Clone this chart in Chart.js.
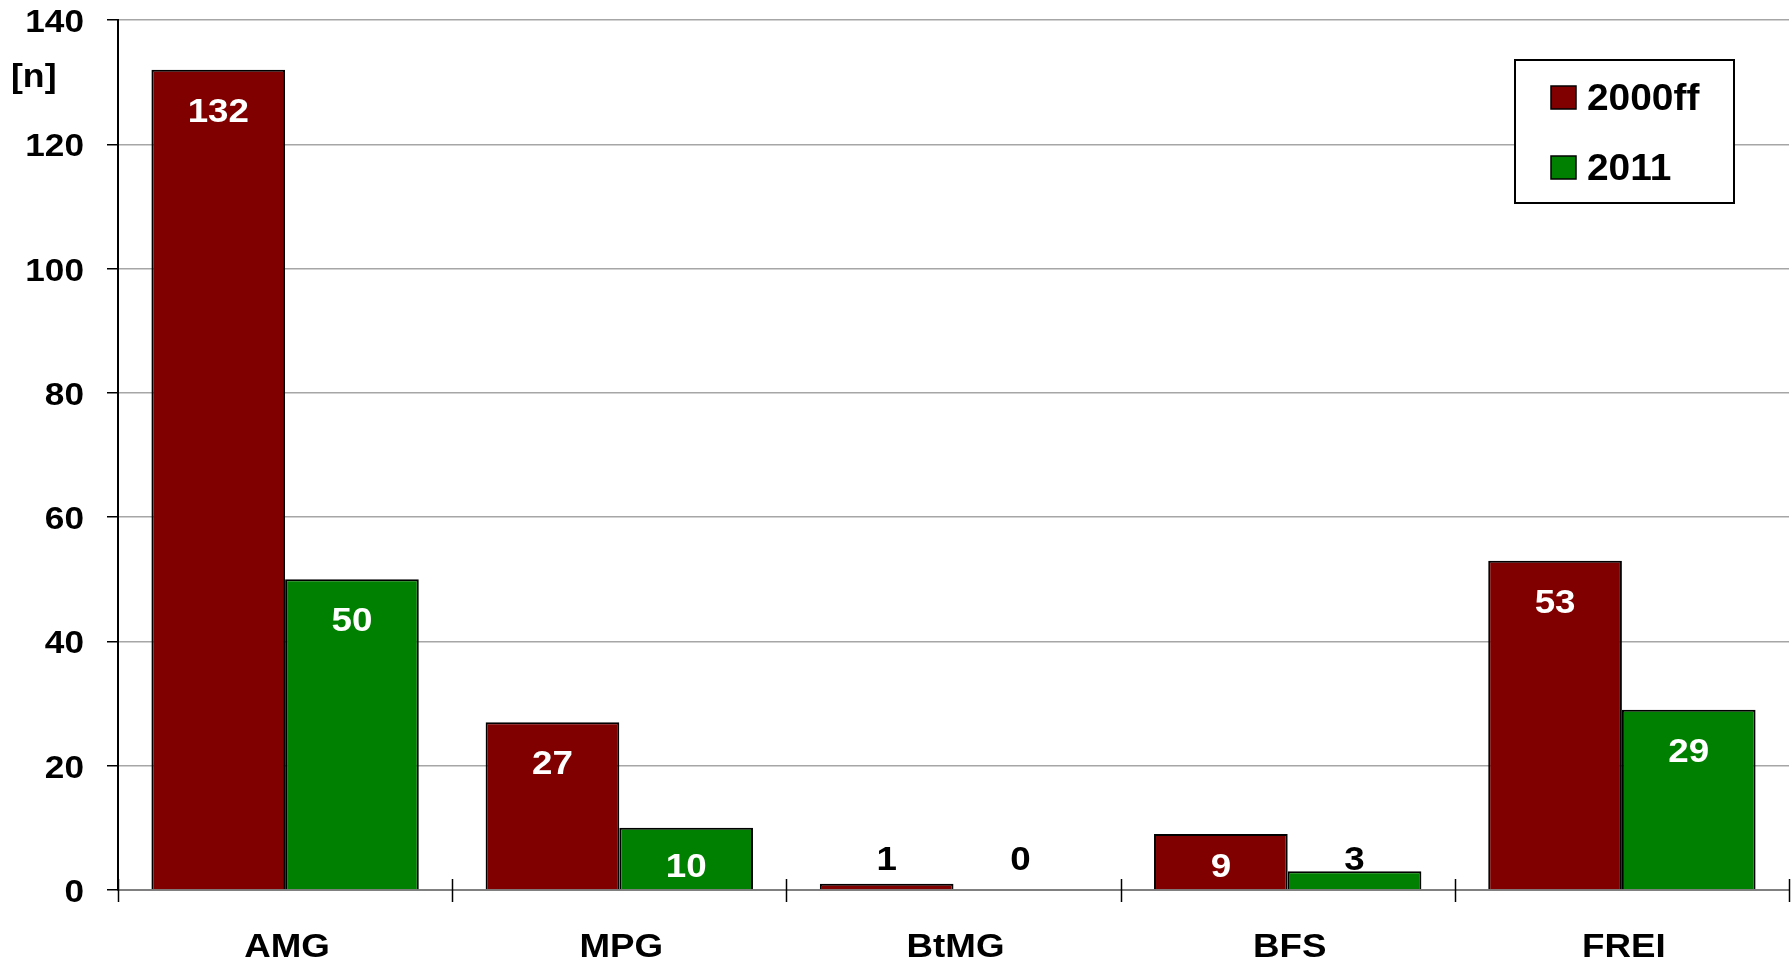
<!DOCTYPE html>
<html>
<head>
<meta charset="utf-8">
<title>Bars 2000ff / 2011</title>
<script src="https://cdn.jsdelivr.net/npm/chart.js@4/dist/chart.umd.min.js"></script>
<style>
  html, body { margin: 0; padding: 0; background: #fff; }
  #wrap { width: 1792px; height: 960px; position: relative; }
</style>
</head>
<body>
<div id="wrap"><canvas id="bars"></canvas></div>
<script>
const categories = ['AMG', 'MPG', 'BtMG', 'BFS', 'FREI'];
const seriesNames = ['2000ff', '2011'];
const values2000ff = [132, 27, 1, 9, 53];
const values2011 = [50, 10, 0, 3, 29];
const seriesColors = ['#800000', '#008000'];
const yTicks = [0, 20, 40, 60, 80, 100, 120, 140];
const unitLabel = '[n]';

const FONT = '"Liberation Sans", Arial, sans-serif';

// the lettering is a bit wider than plain Arial, so draw it horizontally stretched
function wideText(ctx, text, x, y, align, size, sx) {
    ctx.save();
    ctx.font = 'bold ' + size + 'px ' + FONT;
    ctx.textAlign = align;
    ctx.textBaseline = 'alphabetic';
    ctx.translate(x, y);
    ctx.scale(sx, 1);
    ctx.fillText(text, 0, 0);
    ctx.restore();
}

// axis lettering, category tick marks and the unit label
const axisText = {
    id: 'axisText',
    afterDraw(chart) {
        const ctx = chart.ctx;
        const xs = chart.scales.x;
        const ys = chart.scales.y;
        const base = ys.getPixelForValue(0);
        ctx.save();
        ctx.fillStyle = '#000';
        yTicks.forEach(v => {
            wideText(ctx, String(v), 84, ys.getPixelForValue(v) + 12, 'right', 32, 1.1);
        });
        categories.forEach((c, i) => {
            wideText(ctx, c, xs.getPixelForValue(i) + 2, 957, 'center', 34, 1.08);
        });
        // tick marks between the categories cross the baseline
        ctx.strokeStyle = '#000';
        ctx.lineWidth = 1.5;
        const step = (xs.right - xs.left) / categories.length;
        for (let i = 0; i <= categories.length; i++) {
            const x = Math.round(xs.left + i * step) + 0.5;
            ctx.beginPath();
            ctx.moveTo(x, base - 11);
            ctx.lineTo(x, base + 12);
            ctx.stroke();
        }
        wideText(ctx, unitLabel, 11, 87, 'left', 33, 1.08);
        ctx.restore();
    }
};

// values inside the bar (white) or above it (black) for the tiny ones
const valueLabels = {
    id: 'valueLabels',
    afterDatasetsDraw(chart) {
        const ctx = chart.ctx;
        const base = chart.scales.y.getPixelForValue(0);
        ctx.save();
        chart.data.datasets.forEach((ds, i) => {
            chart.getDatasetMeta(i).data.forEach((bar, j) => {
                const v = ds.data[j];
                let y;
                if (v >= 5) {
                    ctx.fillStyle = '#fff';
                    y = Math.min(bar.y + 40, base - 25) + 12;
                } else {
                    ctx.fillStyle = '#000';
                    y = base - 20;
                }
                wideText(ctx, String(v), bar.x, y, 'center', 34, 1.08);
            });
        });
        ctx.restore();
    }
};

// boxed legend in the top right corner
const boxLegend = {
    id: 'boxLegend',
    afterDraw(chart) {
        const ctx = chart.ctx;
        ctx.save();
        ctx.fillStyle = '#fff';
        ctx.fillRect(1515, 60, 219, 143);
        ctx.strokeStyle = '#000';
        ctx.lineWidth = 2;
        ctx.strokeRect(1515, 60, 219, 143);
        const squares = [86, 156];
        const baselines = [110, 180];
        seriesNames.forEach((name, i) => {
            ctx.fillStyle = seriesColors[i];
            ctx.fillRect(1551, squares[i], 25, 23);
            ctx.lineWidth = 1.5;
            ctx.strokeStyle = '#000';
            ctx.strokeRect(1551, squares[i], 25, 23);
            ctx.fillStyle = '#000';
            wideText(ctx, name, 1587, baselines[i], 'left', 36, 1.08);
        });
        ctx.restore();
    }
};

new Chart(document.getElementById('bars'), {
    type: 'bar',
    data: {
        labels: categories,
        datasets: [
            {
                label: seriesNames[0],
                data: values2000ff,
                backgroundColor: seriesColors[0],
                borderColor: '#000',
                borderWidth: 2,
                borderSkipped: 'bottom'
            },
            {
                label: seriesNames[1],
                data: values2011,
                backgroundColor: seriesColors[1],
                borderColor: '#000',
                borderWidth: 2,
                borderSkipped: 'bottom'
            }
        ]
    },
    options: {
        responsive: true,
        maintainAspectRatio: false,
        animation: false,
        layout: { padding: { top: 20, right: 3, left: 0, bottom: 0 } },
        datasets: {
            bar: { categoryPercentage: 0.8, barPercentage: 1.0 }
        },
        plugins: {
            legend: { display: false },
            tooltip: { enabled: false }
        },
        scales: {
            x: {
                afterFit(scale) { scale.height = 70; },
                grid: { display: false },
                border: { color: '#808080', width: 2 },
                ticks: { display: false }
            },
            y: {
                min: 0,
                max: 140,
                afterFit(scale) { scale.width = 118; },
                afterBuildTicks(scale) {
                    scale.ticks = yTicks.map(v => ({ value: v }));
                },
                grid: {
                    color: '#a6a6a6',
                    lineWidth: 1.5,
                    tickColor: '#000',
                    tickLength: 11
                },
                border: { color: '#000', width: 2 },
                ticks: { display: false }
            }
        }
    },
    plugins: [valueLabels, boxLegend, axisText]
});
</script>
</body>
</html>
